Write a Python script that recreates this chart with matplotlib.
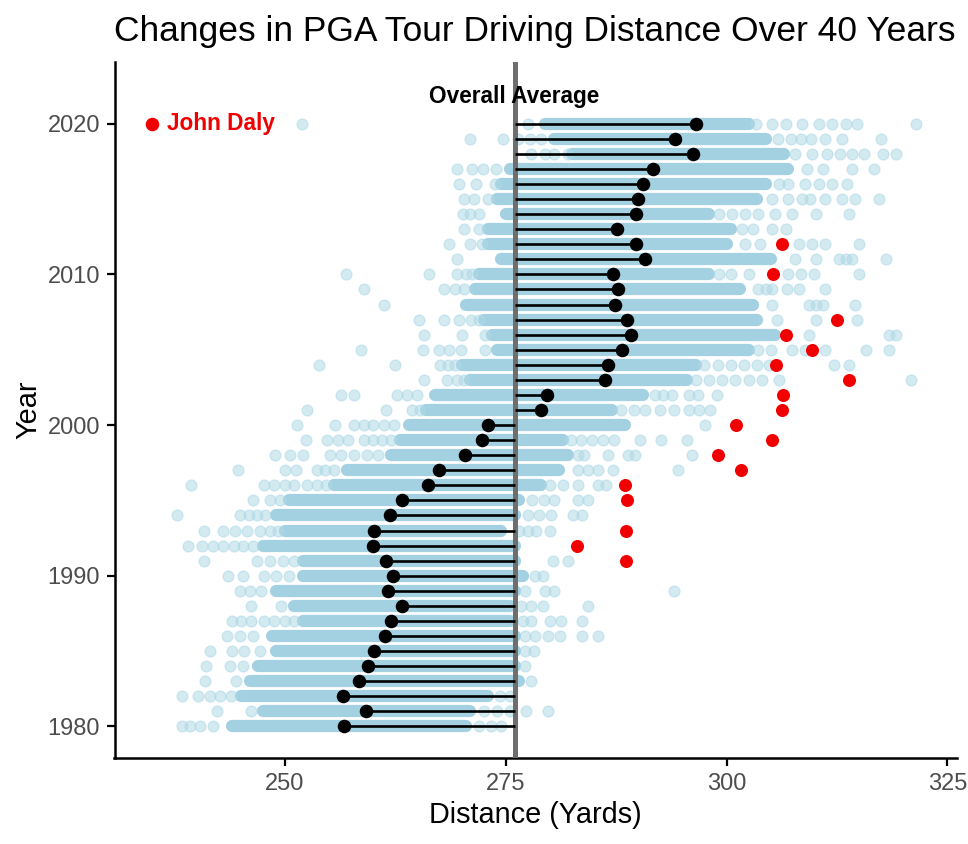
import matplotlib
matplotlib.use("Agg")
import matplotlib.pyplot as plt

plt.rcParams['font.family'] = ['Liberation Sans', 'DejaVu Sans']

# ---------------- data ----------------
years = list(range(1980, 2021))

year_means = [256.7, 259.2, 256.6, 258.4, 259.35, 260.1, 261.3, 262.0, 263.2, 261.7,
              262.2, 261.4, 260.0, 260.1, 261.9, 263.3, 266.2, 267.4, 270.4, 272.3,
              273.0, 279.0, 279.7, 286.2, 286.6, 288.2, 289.2, 288.75, 287.4, 287.7,
              287.2, 290.8, 289.8, 287.6, 289.7, 290.0, 290.6, 291.7, 296.2, 294.2,
              296.5]

# dense band of players per year (low / high edge of the saturated band)
core_lo = [244.0, 247.5, 245.0, 246.0, 247.0, 249.0, 248.5, 252.0, 251.0, 249.0,
           252.0, 252.0, 247.5, 250.0, 249.0, 250.5, 255.5, 257.0, 262.0, 263.0,
           264.0, 266.0, 267.0, 271.0, 270.0, 274.0, 273.5, 272.5, 270.5, 271.5,
           272.0, 274.5, 273.0, 273.0, 275.0, 274.0, 274.5, 275.5, 282.5, 280.5,
           279.5]
core_hi = [270.5, 271.0, 273.0, 276.5, 276.0, 276.0, 276.0, 275.5, 275.5, 276.0,
           277.0, 276.0, 276.0, 274.5, 276.0, 276.5, 279.0, 281.0, 282.0, 281.5,
           288.5, 287.0, 290.5, 295.5, 296.5, 302.5, 305.5, 303.5, 303.0, 301.5,
           298.0, 305.0, 300.0, 300.5, 298.0, 303.5, 304.5, 307.0, 306.5, 304.5,
           302.5]

# individual (non-overlapping) players outside the dense band
outer_points = [
    [238.3, 239.3, 240.4, 241.9, 272.0, 273.3, 274.5],                                   # 1980
    [242.3, 246.1, 272.5, 274.0, 275.5, 277.3, 279.8],                                   # 1981
    [238.3, 240.2, 241.5, 242.7, 243.9, 274.3, 275.5],                                   # 1982
    [241.0, 244.5, 277.9],                                                               # 1983
    [241.1, 243.8, 245.3, 277.2],                                                        # 1984
    [241.5, 244.0, 245.4, 247.2, 277.2, 278.2],                                          # 1985
    [243.4, 244.9, 246.4, 277.2, 278.3, 279.8, 281.1, 283.6, 285.5],                     # 1986
    [244.0, 245.0, 246.1, 247.6, 248.8, 250.0, 251.0, 276.9, 277.9, 280.0, 281.3, 283.6],  # 1987
    [246.1, 249.5, 276.7, 277.9, 279.2, 284.3],                                          # 1988
    [244.9, 246.0, 247.3, 277.2, 279.4, 280.5, 294.0],                                   # 1989
    [243.6, 245.3, 247.6, 249.0, 250.5, 278.3, 279.2],                                   # 1990
    [240.8, 246.8, 248.3, 249.8, 251.0, 280.3, 282.0],                                   # 1991
    [239.0, 240.6, 241.9, 243.0, 244.2, 245.3, 246.4],                                   # 1992
    [240.8, 243.0, 244.4, 245.7, 247.2, 248.3, 249.2, 276.5, 277.5, 278.4, 280.0],       # 1993
    [237.8, 244.9, 245.9, 246.8, 247.7, 277.5, 278.8, 280.1, 282.6, 283.6],              # 1994
    [246.4, 248.3, 249.4, 278.0, 279.3, 280.5, 283.2, 284.3],                            # 1995
    [239.4, 247.6, 248.8, 250.0, 251.0, 252.5, 253.6, 254.6, 280.0, 281.5, 283.2, 285.4, 286.4],  # 1996
    [244.7, 250.0, 251.2, 253.6, 254.5, 255.5, 283.2, 284.3, 285.4, 287.2, 294.5],       # 1997
    [248.9, 250.6, 252.1, 255.1, 256.3, 257.8, 259.3, 260.5, 283.2, 283.9, 286.6, 288.9, 289.6, 296.1],  # 1998
    [252.4, 254.8, 256.0, 257.1, 258.9, 260.0, 261.0, 262.0, 282.4, 283.5, 284.8, 286.0, 287.3, 290.2, 292.6, 295.5],  # 1999
    [251.4, 255.7, 257.8, 259.0, 260.0, 261.2, 262.3, 297.6],                            # 2000
    [252.5, 261.4, 264.4, 265.3, 288.1, 289.5, 290.8, 292.5, 294.1, 295.7, 296.9, 298.1],  # 2001
    [256.3, 257.8, 262.7, 263.8, 265.0, 291.9, 292.8, 293.8, 295.7, 296.8, 298.9],       # 2002
    [265.7, 268.4, 269.5, 270.3, 296.5, 298.0, 299.5, 301.0, 302.5, 304.0, 305.9, 320.9],  # 2003
    [253.8, 262.5, 267.6, 268.5, 269.3, 297.5, 299.0, 300.5, 302.0, 303.5, 304.8, 312.2, 313.9],  # 2004
    [258.6, 265.6, 267.4, 268.6, 269.9, 272.6, 303.6, 305.0, 307.4, 308.9, 311.2, 315.8, 318.4],  # 2005
    [265.7, 270.1, 272.6, 309.3, 318.4, 319.2],                                          # 2006
    [265.2, 268.0, 269.7, 271.1, 272.0, 305.7, 310.1, 314.8],                            # 2007
    [261.2, 305.1, 309.3, 310.1, 310.9, 314.6],                                          # 2008
    [258.9, 268.0, 269.2, 270.3, 303.6, 304.5, 305.1, 306.9, 308.2, 311.2],              # 2009
    [256.9, 266.3, 269.5, 270.5, 271.2, 299.1, 300.5, 302.5, 307.0, 308.4, 309.9, 315.0],  # 2010
    [269.5, 307.8, 310.1, 312.7, 313.5, 314.2, 318.1],                                   # 2011
    [268.6, 270.9, 272.3, 302.1, 303.8, 308.2, 309.7, 311.2, 315.0],                     # 2012
    [270.3, 272.0, 301.8, 303.0, 305.1, 306.7],                                          # 2013
    [270.2, 271.0, 272.0, 299.1, 300.6, 302.1, 303.6, 305.5, 307.4, 310.1, 313.9],       # 2014
    [270.3, 271.4, 273.0, 305.1, 307.0, 308.6, 309.4, 311.2, 313.1, 314.6, 317.3],       # 2015
    [269.7, 271.6, 273.8, 305.9, 307.0, 308.9, 310.5, 312.0, 313.7],                     # 2016
    [269.5, 271.2, 272.4, 273.9, 309.1, 310.9, 314.2, 316.7],                            # 2017
    [277.9, 279.4, 280.5, 282.0, 307.8, 309.7, 311.4, 312.9, 314.2, 315.6, 317.7, 319.2],  # 2018
    [271.0, 274.7, 276.4, 277.7, 279.0, 305.8, 307.3, 308.4, 309.6, 311.1, 313.1, 317.5],  # 2019
    [251.9, 277.5, 303.3, 305.1, 306.7, 308.6, 310.5, 312.0, 313.5, 314.8, 321.5],       # 2020
]

daly_years = [1991, 1992, 1993, 1995, 1996, 1997, 1998, 1999, 2000, 2001,
              2002, 2003, 2004, 2005, 2006, 2007, 2010, 2012]
daly_dist = [288.6, 283.1, 288.6, 288.7, 288.5, 301.6, 299.0, 305.2, 301.1, 306.3,
             306.4, 313.9, 305.6, 309.7, 306.7, 312.5, 305.3, 306.3]

overall_avg = 276.0
title_text = "Changes in PGA Tour Driving Distance Over 40 Years"
x_ticks = [250, 275, 300, 325]
y_ticks = [1980, 1990, 2000, 2010, 2020]

# ---------------- figure ----------------
W, H = 968, 844
fig = plt.figure(figsize=(W / 100, H / 100), dpi=100)
L, R, T, B = 114.5, 957, 62, 758
ax = fig.add_axes([L / W, 1 - B / H, (R - L) / W, (B - T) / H])

band_color = '#A4D1E2'
pt_color = '#ADD8E6'
diam_pt = 8.8

# dense band
lc = ax.hlines(years, core_lo, core_hi, colors=band_color, linewidth=diam_pt, zorder=1)
lc.set_capstyle('round')

# individual players
px, py = [], []
for yr, pts in zip(years, outer_points):
    px.extend(pts)
    py.extend([yr] * len(pts))
ax.scatter(px, py, s=(diam_pt - 1.0) ** 2, color=pt_color, edgecolors=pt_color,
           linewidths=1.0, alpha=0.52, zorder=2)

# overall average line
ax.axvline(overall_avg, color='#6E6E6E', linewidth=3.6, zorder=3)

# segments + means
ax.hlines(years, overall_avg, year_means, colors='black', linewidth=1.9, zorder=4)
ax.scatter(year_means, years, s=95, color='black', linewidths=0, zorder=5)

# John Daly
red = '#F00000'
ax.scatter(daly_dist, daly_years, s=88, color=red, linewidths=0, zorder=6)
ax.scatter([235.0], [2020], s=95, color=red, linewidths=0, zorder=6)
ax.text(236.6, 2020, "John Daly", color=red, fontsize=16.3, fontweight='bold',
        va='center', ha='left', zorder=7,
        bbox=dict(facecolor='white', edgecolor='none', alpha=0.8, pad=1.5))
ax.text(overall_avg, 2021.8, "Overall Average", color='black', fontsize=16.3,
        fontweight='bold', va='center', ha='center', zorder=7)

ax.set_xlim(230.7, 326.1)
ax.set_ylim(1977.9, 2024.1)
ax.set_xticks(x_ticks)
ax.set_yticks(y_ticks)
ax.tick_params(axis='both', length=5.5, width=1.6, color='black',
               labelsize=17, labelcolor='#4D4D4D', pad=5)
for s in ['top', 'right']:
    ax.spines[s].set_visible(False)
for s in ['left', 'bottom']:
    ax.spines[s].set_linewidth(1.8)
    ax.spines[s].set_color('black')

fig.text(L / W, 1 - 41 / H, title_text, fontsize=25.5, ha='left', va='baseline',
         color='black')
fig.text(((L + R) / 2) / W, 1 - 823 / H, "Distance (Yards)", fontsize=20.8,
         ha='center', va='baseline', color='black')
fig.text(28 / W, 1 - 410 / H, "Year", fontsize=20.8, ha='center', va='center',
         rotation=90, color='black')

fig.savefig("out.png", dpi=100, facecolor='white')
